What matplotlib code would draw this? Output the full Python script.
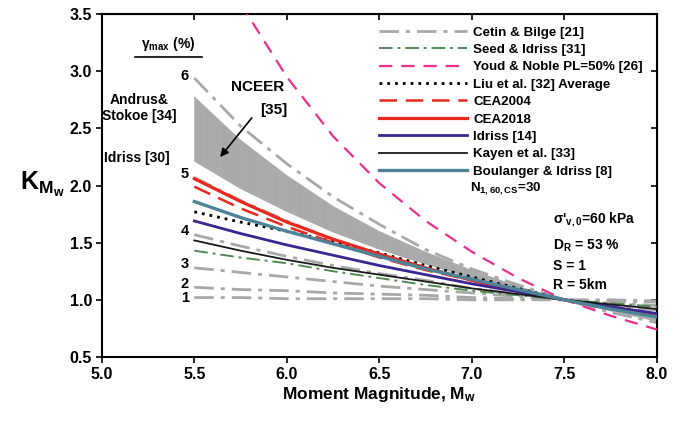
import numpy as np
import matplotlib
matplotlib.use("Agg")
import matplotlib.pyplot as plt

plt.rcParams["font.family"] = ["Liberation Sans", "DejaVu Sans"]
plt.rcParams["font.weight"] = "bold"
plt.rcParams["mathtext.fontset"] = "custom"
plt.rcParams["mathtext.rm"] = "Liberation Sans:bold"
plt.rcParams["mathtext.bf"] = "Liberation Sans:bold"
plt.rcParams["mathtext.it"] = "Liberation Sans:bold"
plt.rcParams["mathtext.default"] = "bf"
plt.rcParams["hatch.linewidth"] = 0.6

mw = [5.5, 5.75, 6.0, 6.25, 6.5, 6.75, 7.0, 7.25, 7.5, 7.75, 8.0]

# Cetin & Bilge curves for gamma_max = 1..6 %
cetin = {
    6: [2.94, 2.52, 2.19, 1.90, 1.66, 1.44, 1.27, 1.13, 1.0, 0.89, 0.80],
    5: [2.07, 1.87, 1.69, 1.53, 1.40, 1.28, 1.18, 1.08, 1.0, 0.93, 0.86],
    4: [1.57, 1.47, 1.38, 1.30, 1.23, 1.17, 1.10, 1.05, 1.0, 0.95, 0.91],
    3: [1.28, 1.24, 1.20, 1.16, 1.12, 1.09, 1.06, 1.03, 1.0, 0.97, 0.95],
    2: [1.11, 1.09, 1.08, 1.06, 1.05, 1.04, 1.02, 1.01, 1.0, 0.99, 0.98],
    1: [1.02, 1.02, 1.01, 1.01, 1.01, 1.01, 1.00, 1.00, 1.0, 1.00, 0.99],
}
seed_idriss = [1.43, 1.37, 1.32, 1.25, 1.19, 1.13, 1.08, 1.04, 1.0, 0.97, 0.94]
liu_avg = [1.77, 1.68, 1.60, 1.51, 1.41, 1.30, 1.20, 1.10, 1.0, 0.92, 0.86]
cea2004 = [1.99, 1.80, 1.64, 1.50, 1.37, 1.26, 1.17, 1.08, 1.0, 0.93, 0.87]
cea2018 = [2.06, 1.86, 1.68, 1.53, 1.40, 1.28, 1.17, 1.08, 1.0, 0.93, 0.86]
idriss14 = [1.69, 1.58, 1.48, 1.39, 1.30, 1.22, 1.14, 1.07, 1.0, 0.94, 0.88]
kayen = [1.52, 1.43, 1.35, 1.28, 1.22, 1.16, 1.10, 1.05, 1.0, 0.96, 0.92]
boulanger = [1.86, 1.72, 1.60, 1.49, 1.38, 1.27, 1.18, 1.09, 1.0, 0.92, 0.85]

# NCEER band: Andrus & Stokoe (upper) and Idriss [30] (lower)
nceer_upper = [2.78, 2.40, 2.09, 1.82, 1.60, 1.42, 1.26, 1.12, 1.0, 0.90, 0.81]
nceer_lower = [2.21, 1.97, 1.77, 1.59, 1.44, 1.31, 1.19, 1.09, 1.0, 0.92, 0.85]

# Youd & Noble PL=50%
mw_youd = [5.75, 6.0, 6.25, 6.5, 6.75, 7.0, 7.25, 7.5, 7.75, 8.0]
youd = [3.59, 2.95, 2.43, 2.02, 1.69, 1.42, 1.19, 1.0, 0.86, 0.74]

fig = plt.figure(figsize=(6.83, 4.25), dpi=100)
ax = fig.add_axes([0.149, 0.16, 0.813, 0.807])

ax.fill_between(mw, nceer_lower, nceer_upper, facecolor="#cdcdcd",
                edgecolor="#a2a2a2", hatch="||||||||||||||||", linewidth=0,
                zorder=1)

gray = "#a8a8a8"
for g in [6, 5, 4, 3, 2, 1]:
    ax.plot(mw, cetin[g], color=gray, lw=2.0, ls=(0, (7, 2.5, 1.5, 2.5)), zorder=2,
            label="Cetin & Bilge [21]" if g == 6 else None)
ax.plot(mw, seed_idriss, color="#4f8a52", lw=1.4, ls=(0, (7, 2.5, 1.5, 2.5)),
        label="Seed & Idriss [31]", zorder=3)
ax.plot(mw_youd, youd, color="#ea2f8c", lw=1.6, ls=(0, (6, 4)),
        label="Youd & Noble PL=50% [26]", zorder=3)
ax.plot(mw, liu_avg, color="black", lw=2.0, ls=(0, (1, 1.8)),
        label="Liu et al. [32] Average", zorder=4)
ax.plot(mw, cea2004, color="#e8281f", lw=1.8, ls=(0, (7, 3.5)),
        label="CEA2004", zorder=4)
ax.plot(mw, cea2018, color="#e8281f", lw=2.3, label="CEA2018", zorder=4)
ax.plot(mw, idriss14, color="#3b2590", lw=2.0, label="Idriss [14]", zorder=4)
ax.plot(mw, kayen, color="#1a1a1a", lw=1.3, label="Kayen et al. [33]", zorder=4)
ax.plot(mw, boulanger, color="#4d8397", lw=2.4,
        label="Boulanger & Idriss [8]", zorder=4)

ax.set_xlim(5.0, 8.0)
ax.set_ylim(0.5, 3.5)
ax.set_xticks(np.arange(5.0, 8.01, 0.5))
ax.set_yticks(np.arange(0.5, 3.51, 0.5))
ax.set_xticklabels([f"{v:.1f}" for v in np.arange(5.0, 8.01, 0.5)])
ax.set_yticklabels([f"{v:.1f}" for v in np.arange(0.5, 3.51, 0.5)])
ax.tick_params(direction="out", length=4, width=1.2, labelsize=11.5, pad=3)
for s in ax.spines.values():
    s.set_linewidth(1.5)
top = ax.secondary_xaxis("top")
top.set_xticks(np.arange(5.0, 8.01, 0.5))
top.tick_params(direction="in", length=4, width=1.2, labeltop=False)
right = ax.secondary_yaxis("right")
right.set_yticks(np.arange(0.5, 3.51, 0.5))
right.tick_params(direction="in", length=4, width=1.2, labelright=False)

ax.set_xlabel("Moment Magnitude, M$_\\mathbf{w}$", fontsize=12.5,
              fontweight="bold", labelpad=2)
fig.text(0.030, 0.565, "K$_{M_w}$", fontsize=18, fontweight="bold",
         ha="left", va="center")

leg = ax.legend(loc="upper left", bbox_to_anchor=(0.49, 0.98), frameon=False,
                fontsize=9.6, handlelength=6.6, handletextpad=0.45,
                labelspacing=0.38, borderaxespad=0)
ax.text(6.99, 1.975, "N$_{1,60,CS}$=30", fontsize=9.6, fontweight="bold",
        ha="left", va="center")

for txt, yv in [("σ'$_{v,0}$=60 kPa", 1.70), ("D$_R$ = 53 %", 1.47),
                ("S = 1", 1.30), ("R = 5km", 1.13)]:
    ax.text(7.44, yv, txt, fontsize=10, fontweight="bold", ha="left", va="center")

# gamma_max labels
ax.text(5.36, 3.24, "γ$_{max}$ (%)", fontsize=10, fontweight="bold",
        ha="center", va="center")
ax.plot([5.18, 5.54], [3.12, 3.12], color="black", lw=1.2, clip_on=False)
for g, yv in [(6, 2.96), (5, 2.10), (4, 1.60), (3, 1.31), (2, 1.14), (1, 1.02)]:
    ax.text(5.47, yv, str(g), fontsize=10.5, fontweight="bold", ha="right",
            va="center")

ax.text(5.20, 2.68, "Andrus&\nStokoe [34]", fontsize=10, fontweight="bold",
        ha="center", va="center", linespacing=1.15)
ax.text(5.19, 2.24, "Idriss [30]", fontsize=10, fontweight="bold",
        ha="center", va="center")
ax.text(5.84, 2.86, "NCEER", fontsize=11, fontweight="bold", ha="center",
        va="center")
ax.text(5.93, 2.66, "[35]", fontsize=11, fontweight="bold", ha="center",
        va="center")
ax.annotate("", xy=(5.63, 2.23), xytext=(5.82, 2.61),
            arrowprops=dict(arrowstyle="-|>", color="black", lw=1.2,
                            mutation_scale=12))

fig.savefig("out.png", dpi=100)
